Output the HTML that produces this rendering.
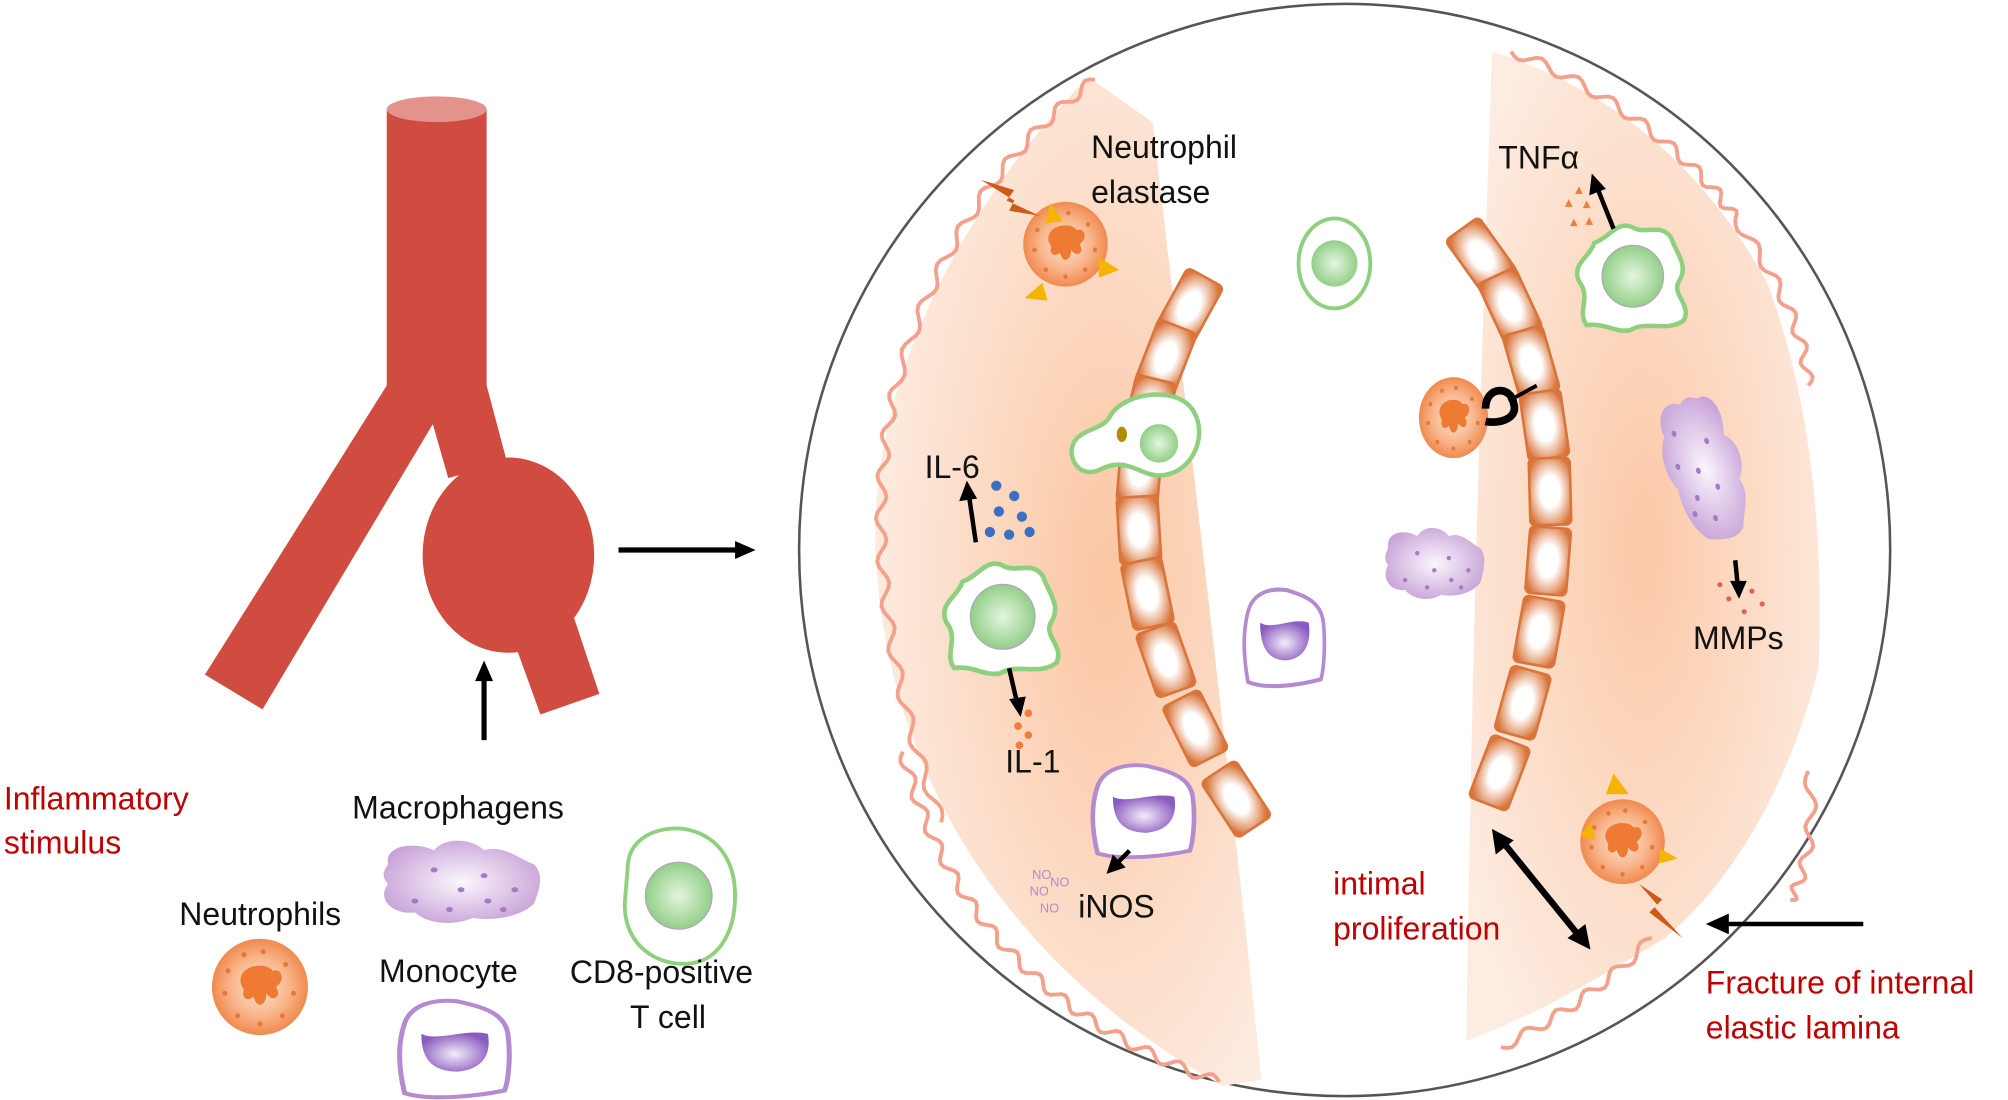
<!DOCTYPE html>
<html><head><meta charset="utf-8"><style>
html,body{margin:0;padding:0;background:#fff;}
svg{display:block;}
text{font-family:"Liberation Sans",sans-serif;font-size:25px;fill:#111;}
.r{fill:#c00000;}
</style></head><body>
<svg id="s" width="2008" height="1100" viewBox="0 0 1568 856" preserveAspectRatio="none" xmlns="http://www.w3.org/2000/svg">
<defs>
<radialGradient id="peachL" cx="0.6" cy="0.5" r="0.6"><stop offset="0" stop-color="#fbc6a2"/><stop offset="1" stop-color="#fdebe0"/></radialGradient>
<radialGradient id="peachR" cx="0.5" cy="0.5" r="0.6"><stop offset="0" stop-color="#fbc6a2"/><stop offset="1" stop-color="#fdebe0"/></radialGradient>
<radialGradient id="neu" cx="0.5" cy="0.5" r="0.5"><stop offset="0" stop-color="#fde3d2"/><stop offset="0.6" stop-color="#f8b68c"/><stop offset="1" stop-color="#f08a4e"/></radialGradient>
<radialGradient id="grn" cx="0.5" cy="0.5" r="0.5"><stop offset="0" stop-color="#e4f5e0"/><stop offset="1" stop-color="#93cf88"/></radialGradient>
<radialGradient id="pur" cx="0.5" cy="0.55" r="0.55"><stop offset="0" stop-color="#f4ecfa"/><stop offset="1" stop-color="#8a5cbf"/></radialGradient>
<radialGradient id="mac" cx="0.5" cy="0.5" r="0.55"><stop offset="0" stop-color="#fbf6fd"/><stop offset="1" stop-color="#c8a4d8"/></radialGradient>
<radialGradient id="endo" cx="0.5" cy="0.5" r="0.6"><stop offset="0.4" stop-color="#fff"/><stop offset="1" stop-color="#d9743a"/></radialGradient>
<g id="neutro">
<circle r="30" fill="url(#neu)"/>
<path d="M-12,-2 C-14,-14 4,-16 8,-10 C14,-12 16,-4 10,0 C14,6 8,10 4,4 C4,12 -2,14 -4,6 C-8,10 -12,6 -10,2 Z" fill="#ef7a33"/>
<g fill="#e8773c"><circle cx="-20" cy="-10" r="1.6"/><circle cx="-22" cy="4" r="1.6"/><circle cx="-14" cy="18" r="1.6"/><circle cx="0" cy="23" r="1.6"/><circle cx="14" cy="18" r="1.6"/><circle cx="21" cy="4" r="1.6"/><circle cx="16" cy="-14" r="1.6"/><circle cx="2" cy="-22" r="1.6"/><circle cx="-10" cy="-20" r="1.6"/></g>
</g>
<g id="mono">
<path d="M-30,-18 C-26,-32 -12,-36 2,-34 C16,-30 30,-26 32,-10 C34,8 32,26 30,32 C14,36 -14,40 -30,34 C-34,14 -34,-4 -30,-18 Z" fill="#fff" stroke="#b48ad0" stroke-width="3"/>
<path d="M-20,-10 C-10,-4 6,-14 20,-10 C22,4 18,16 2,18 C-14,18 -20,8 -20,-10 Z" fill="url(#pur)"/>
</g>
<g id="macro">
<path d="M-38,-14 C-40,-28 -24,-30 -14,-24 C-8,-34 6,-32 12,-24 C22,-28 30,-18 38,-14 C44,-6 40,6 38,14 C30,24 16,26 6,24 C-4,30 -18,28 -24,20 C-36,22 -44,10 -38,0 C-42,-6 -40,-10 -38,-14 Z" fill="url(#mac)"/>
<g fill="#a57bc4"><circle cx="-14" cy="-10" r="1.8"/><circle cx="12" cy="-6" r="1.8"/><circle cx="0" cy="4" r="1.8"/><circle cx="-24" cy="12" r="1.8"/><circle cx="-6" cy="18" r="1.8"/><circle cx="14" cy="12" r="1.8"/><circle cx="28" cy="4" r="1.8"/><circle cx="22" cy="18" r="1.8"/></g>
</g>
<g id="tstar">
<path d="M-30,-26 C-18,-30 -12,-44 0,-38 C10,-32 22,-42 30,-30 C34,-18 44,-8 36,4 C30,14 46,22 40,34 C28,44 10,34 -2,42 C-14,44 -22,36 -36,38 C-44,28 -32,16 -42,4 C-48,-10 -34,-14 -30,-26 Z" fill="#fff" stroke="#8fd07e" stroke-width="3.5"/>
<circle r="24" fill="url(#grn)" stroke="#b0a8b8" stroke-width="1"/>
</g>
</defs>

<!-- vessel -->
<g fill="#d04b40">
<rect x="302" y="85" width="78" height="220"/>
<path d="M302,300 L380,300 L396,360 L350,372 L338,330 L205,552 L160,525 Z"/>
<ellipse cx="397" cy="432" rx="67" ry="76"/>
<path d="M398,490 L448,480 L468,540 L422,556 Z"/>
</g>
<ellipse cx="341" cy="85" rx="39" ry="10" fill="#e3928c"/>

<g stroke="#000" stroke-width="4" fill="none"><line x1="378" y1="576" x2="378" y2="528"/><line x1="483" y1="428" x2="575" y2="428"/></g>
<path d="M378,514 L371,530 L385,530 Z M590,428 L574,421 L574,435 Z" fill="#000"/>

<ellipse cx="1050" cy="428" rx="426" ry="425" fill="#fff" stroke="#555" stroke-width="2"/>

<path d="M850,60 C760,150 670,300 685,450 C700,620 800,760 955,845 L985,840 C960,600 930,350 900,95 Z" fill="url(#peachL)"/>
<path d="M1165,40 C1160,200 1150,450 1145,810 C1200,790 1250,760 1300,730 C1360,680 1400,600 1420,520 C1425,400 1410,300 1380,220 C1330,130 1260,70 1165,40 Z" fill="url(#peachR)" opacity="0.95"/>
<g id="waves" fill="none" stroke="#f4a18c" stroke-width="3"></g>
<g id="endos"></g>

<use href="#neutro" transform="translate(832,190) scale(1.1)"/>
<g fill="#f5b400"><path d="M820,158 L830,172 L816,174 Z"/><path d="M800,232 L814,220 L818,234 Z"/><path d="M858,200 L874,210 L858,216 Z"/></g>
<path d="M766,140 L792,148 L786,156 L812,168 L788,164 L792,156 Z" fill="#cc5a1a"/>
<use href="#neutro" transform="translate(1135,325) scale(0.9,1.05)"/>
<path d="M1160,318 C1160,300 1180,300 1182,314 C1186,326 1170,330 1160,328" fill="none" stroke="#000" stroke-width="6"/>
<line x1="1178" y1="312" x2="1200" y2="300" stroke="#000" stroke-width="3"/>
<use href="#neutro" transform="translate(1267,655) scale(1.1)"/>
<g fill="#f5b400"><path d="M1254,618 L1260,602 L1272,618 Z"/><path d="M1234,650 L1242,640 L1246,654 Z"/><path d="M1296,660 L1310,668 L1296,672 Z"/></g>
<path d="M1280,688 L1298,700 L1292,706 L1314,730 L1288,710 L1294,704 Z" fill="#cc5a1a"/>
<use href="#neutro" transform="translate(203,768) scale(1.25)"/>

<g transform="translate(1042,205)"><ellipse rx="28" ry="35" fill="#fff" stroke="#8fd07e" stroke-width="3"/><circle r="18" fill="url(#grn)"/></g>
<g transform="translate(530,697)"><path d="M-40,-20 C-40,-46 -16,-54 4,-52 C28,-48 44,-30 44,0 C44,30 30,52 6,53 C-22,54 -44,34 -42,4 Z" fill="#fff" stroke="#8fd07e" stroke-width="3"/><circle r="26" fill="url(#grn)" stroke="#b0a8b8" stroke-width="1"/></g>
<use href="#tstar" transform="translate(783,480) scale(1.05)"/>
<use href="#tstar" transform="translate(1275,215) scale(1)"/>
<path d="M868,322 C880,305 920,300 932,320 C944,340 930,370 905,370 C890,370 880,355 860,365 C840,375 830,350 842,340 C852,332 862,334 868,322 Z" fill="#fff" stroke="#8fd07e" stroke-width="3.5"/>
<circle cx="905" cy="345" r="15" fill="url(#grn)"/>
<ellipse cx="876" cy="338" rx="4" ry="6" fill="#b48a0a"/>

<use href="#mono" transform="translate(1003,495) scale(0.95,1.05)"/>
<use href="#mono" transform="translate(355,815) scale(1.3,1.05)"/>
<use href="#mono" transform="translate(893,630) scale(1.2,1)"/>
<use href="#macro" transform="translate(1120,440) scale(0.95)"/>
<use href="#macro" transform="translate(360,688) scale(1.5,1.1)"/>
<use href="#macro" transform="translate(1330,365) rotate(70) scale(1.4,1)"/>

<g fill="#3a6fc4"><circle cx="778" cy="378" r="4"/><circle cx="792" cy="386" r="4"/><circle cx="780" cy="398" r="4"/><circle cx="798" cy="402" r="4"/><circle cx="773" cy="414" r="4"/><circle cx="788" cy="416" r="4"/><circle cx="804" cy="414" r="4"/></g>
<g fill="#f07d3c"><circle cx="803" cy="555" r="3"/><circle cx="795" cy="565" r="3"/><circle cx="803" cy="572" r="3"/><circle cx="796" cy="580" r="3"/></g>
<g fill="#f07d3c"><path d="M1230,151 l3,-6 l3,6z M1222,161 l3,-6 l3,6z M1236,162 l3,-6 l3,6z M1238,175 l3,-6 l3,6z M1226,176 l3,-6 l3,6z"/></g>
<g fill="#e86050"><circle cx="1343" cy="455" r="2"/><circle cx="1368" cy="460" r="2"/><circle cx="1350" cy="466" r="2"/><circle cx="1376" cy="470" r="2"/><circle cx="1362" cy="476" r="2"/></g>
<text x="806" y="684" fill="#b48ad0" style="font-size:10px;fill:#b48ad0">NO</text><text x="820" y="690" style="font-size:10px;fill:#b48ad0">NO</text><text x="804" y="697" style="font-size:10px;fill:#b48ad0">NO</text><text x="812" y="710" style="font-size:10px;fill:#b48ad0">NO</text>

<g stroke="#000" stroke-width="3.5" fill="none">
<line x1="762" y1="422" x2="757" y2="388"/>
<line x1="788" y1="520" x2="794" y2="546"/>
<line x1="882" y1="662" x2="872" y2="672"/>
<line x1="1260" y1="178" x2="1248" y2="148"/>
<line x1="1355" y1="436" x2="1357" y2="456"/>
<line x1="1455" y1="719" x2="1348" y2="719"/>
<line x1="1175" y1="657" x2="1232" y2="727" stroke-width="5"/>
</g>
<g fill="#000">
<path d="M755,374 L749,390 L763,388 Z"/>
<path d="M797,558 L788,544 L801,542 Z"/>
<path d="M864,680 L869,665 L879,675 Z"/>
<path d="M1243,135 L1241,152 L1254,147 Z"/>
<path d="M1358,466 L1351,452 L1364,452 Z"/>
<path d="M1332,719 L1350,711 L1350,727 Z"/>
<path d="M1165,645 L1168,665 L1182,654 Z"/>
<path d="M1242,739 L1238,719 L1224,730 Z"/>
</g>

<text class="r" x="3" y="630">Inflammatory</text>
<text class="r" x="3" y="664">stimulus</text>
<text x="275" y="637">Macrophagens</text>
<text x="140" y="720">Neutrophils</text>
<text x="296" y="764">Monocyte</text>
<text x="445" y="765">CD8-positive</text>
<text x="492" y="800">T cell</text>
<text x="852" y="123">Neutrophil</text>
<text x="852" y="158">elastase</text>
<text x="1170" y="131">TNFα</text>
<text x="722" y="372">IL-6</text>
<text x="785" y="601">IL-1</text>
<text x="842" y="714">iNOS</text>
<text x="1322" y="505">MMPs</text>
<text class="r" x="1041" y="696">intimal</text>
<text class="r" x="1041" y="731">proliferation</text>
<text class="r" x="1332" y="773">Fracture of internal</text>
<text class="r" x="1332" y="808">elastic lamina</text>
</svg>
<script>
(function(){
var NS="http://www.w3.org/2000/svg";
function bez(p,t){var u=1-t;return [u*u*u*p[0]+3*u*u*t*p[2]+3*u*t*t*p[4]+t*t*t*p[6],u*u*u*p[1]+3*u*u*t*p[3]+3*u*t*t*p[5]+t*t*t*p[7]];}
function wave(p,n,amp){var d="";for(var i=0;i<=n*8;i++){var t=i/(n*8);var a=bez(p,t),b=bez(p,Math.min(1,t+0.001)),c=bez(p,Math.max(0,t-0.001));var dx=b[0]-c[0],dy=b[1]-c[1],l=Math.hypot(dx,dy)||1;var o=amp*Math.sin(i/8*2*Math.PI);var x=a[0]-dy/l*o,y=a[1]+dx/l*o;d+=(i?"L":"M")+x.toFixed(1)+","+y.toFixed(1);}var e=document.createElementNS(NS,"path");e.setAttribute("d",d);document.getElementById("waves").appendChild(e);}
wave([855,62,790,110,730,190,700,300],9,4);
wave([700,300,675,400,690,520,735,640],10,4);
wave([705,585,740,720,830,800,952,842],14,4);
wave([1180,40,1260,70,1330,130,1355,170],8,4);
wave([1355,170,1390,220,1410,260,1412,300],5,4);
wave([1412,600,1420,650,1405,690,1398,700],4,4);
wave([1172,815,1220,790,1250,770,1290,730],5,4);
function chain(p,n,w,h){var g=document.getElementById("endos");for(var i=0;i<n;i++){var t=(i+0.5)/n;var a=bez(p,t),b=bez(p,Math.min(1,t+0.01)),c=bez(p,Math.max(0,t-0.01));var ang=Math.atan2(b[1]-c[1],b[0]-c[0])*180/Math.PI-90;var r=document.createElementNS(NS,"rect");r.setAttribute("x",-w/2);r.setAttribute("y",-h/2);r.setAttribute("width",w);r.setAttribute("height",h);r.setAttribute("rx",4);r.setAttribute("fill","url(#endo)");r.setAttribute("stroke","#d9743a");r.setAttribute("stroke-width","2");r.setAttribute("transform","translate("+a[0]+","+a[1]+") rotate("+ang+")");g.appendChild(r);}}
chain([940,220,870,330,860,480,985,650],9,32,52);
chain([1143,182,1230,280,1230,470,1160,628],9,32,52);
})();
</script>
<svg width="0" height="0" style="position:absolute"><ellipse cx="0" cy="0" rx="0" ry="0"/></svg>
</body></html>
